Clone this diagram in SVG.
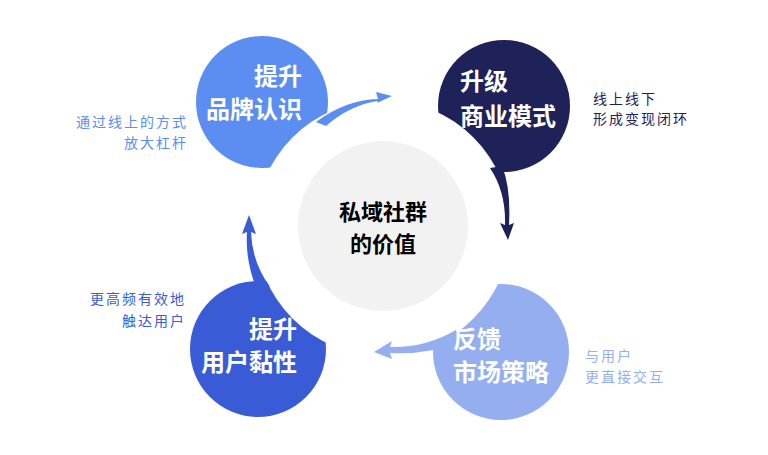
<svg xmlns="http://www.w3.org/2000/svg" width="768" height="455" viewBox="0 0 768 455">
<style>
.t{font-family:"Noto Sans CJK SC","Noto Sans",sans-serif;font-weight:700;font-size:24px;fill:#fff}
.c{font-family:"Noto Sans CJK SC","Noto Sans",sans-serif;font-weight:700;font-size:22px;fill:#000}
.s{font-family:"Noto Sans CJK SC","Noto Sans",sans-serif;font-size:14px;letter-spacing:2px}
</style>
<rect width="768" height="455" fill="#fff"/>
<g id="n1"><circle cx="262" cy="102" r="66" fill="#5b8ef0"/></g>
<g id="n2"><circle cx="504" cy="106" r="66" fill="#1f2259"/></g>
<g id="n3"><circle cx="501" cy="352" r="68" fill="#94aef0"/></g>
<g id="n4"><circle cx="258" cy="349" r="68" fill="#3a5bd6"/></g>
<circle cx="383" cy="228" r="128" fill="#fff"/>
<g id="center"><circle cx="383" cy="226" r="85" fill="#f2f2f2"/>
<text class="c" x="383" y="220" text-anchor="middle">私域社群</text>
<text class="c" x="383" y="252" text-anchor="middle">的价值</text></g>
<g id="connectors">
<path d="M316,122 Q345,100 378,99 L376,92 L392,96 L377,103 L378,101 Q350,105 326,126 Z" fill="#5b8ef0"/>
<path d="M490,168 Q506,192 505,225 L500,223 L508,240 L514,223 L509,225 Q511,188 502,166 Z" fill="#1f2259"/>
<path d="M456,330 Q425,348 390,347 L392,341 L374,352 L392,359 L390,353 Q428,355 462,342 Z" fill="#94aef0"/>
<path d="M258,292 Q245,262 247,232 L242,234 L249,215 L256,234 L251,232 Q252,262 270,287 Z" fill="#3a5bd6"/>
</g>
<text class="t" x="302" y="85" text-anchor="end">提升</text>
<text class="t" x="302" y="118" text-anchor="end">品牌认识</text>
<text class="t" x="460" y="90">升级</text>
<text class="t" x="460" y="125">商业模式</text>
<text class="t" x="453" y="348">反馈</text>
<text class="t" x="453" y="381">市场策略</text>
<text class="t" x="297" y="338" text-anchor="end">提升</text>
<text class="t" x="297" y="371" text-anchor="end">用户黏性</text>
<g class="s">
<text x="188" y="127" text-anchor="end" fill="#5b8ef0">通过线上的方式</text>
<text x="188" y="148" text-anchor="end" fill="#5b8ef0">放大杠杆</text>
<text x="593" y="104" fill="#1f2259">线上线下</text>
<text x="593" y="124" fill="#1f2259">形成变现闭环</text>
<text x="186" y="304" text-anchor="end" fill="#3a5bd6">更高频有效地</text>
<text x="186" y="326" text-anchor="end" fill="#3a5bd6">触达用户</text>
<text x="585" y="361" fill="#94aef0">与用户</text>
<text x="585" y="382" fill="#94aef0">更直接交互</text>
</g>
</svg>
